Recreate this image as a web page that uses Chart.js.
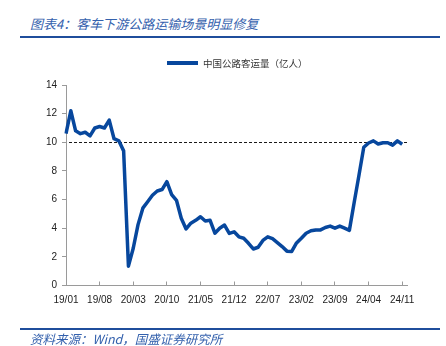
<!DOCTYPE html>
<html>
<head>
<meta charset="utf-8">
<script src="https://cdn.jsdelivr.net/npm/chart.js@4.4.0/dist/chart.umd.min.js"></script>
<style>
  body{margin:0;background:#fff;}
  #wrap{position:relative;width:446px;height:346px;overflow:hidden;font-family:"Noto Sans CJK SC",sans-serif;}
  #c{position:absolute;left:0;top:0;}
  .title{position:absolute;left:30px;top:14px;font-size:13px;font-style:italic;color:#3461ad;white-space:nowrap;}
  .rule{position:absolute;left:20px;width:420px;height:2px;background:#1f4e9c;}
  .src{position:absolute;left:30px;top:331px;font-size:12.5px;font-style:italic;color:#3461ad;white-space:nowrap;line-height:16px;}
  #legend{position:absolute;left:167px;top:55px;height:16px;display:flex;align-items:center;font-size:9.5px;color:#333;white-space:nowrap;}
  #legend i{display:inline-block;width:31px;height:4px;margin-right:5px;}
</style>
</head>
<body>
<div id="wrap">
  <div class="title">图表4：客车下游公路运输场景明显修复</div>
  <div class="rule" style="top:36px"></div>
  <canvas id="c" width="446" height="346"></canvas>
  <div id="legend"></div>
  <div class="rule" style="top:328px"></div>
  <div class="src">资料来源：Wind，国盛证券研究所</div>
</div>
<script>
/* ---------------- DATA ---------------- */
const SERIES_NAME = "中国公路客运量（亿人）";
const MONTHS = [
  "19/01","19/02","19/03","19/04","19/05","19/06","19/07","19/08","19/09","19/10","19/11","19/12",
  "20/01","20/02","20/03","20/04","20/05","20/06","20/07","20/08","20/09","20/10","20/11","20/12",
  "21/01","21/02","21/03","21/04","21/05","21/06","21/07","21/08","21/09","21/10","21/11","21/12",
  "22/01","22/02","22/03","22/04","22/05","22/06","22/07","22/08","22/09","22/10","22/11","22/12",
  "23/01","23/02","23/03","23/04","23/05","23/06","23/07","23/08","23/09","23/10","23/11","23/12",
  "24/01","24/02","24/03","24/04","24/05","24/06","24/07","24/08","24/09","24/10","24/11","24/12"
];
const PASSENGERS = [
  10.6, 12.2, 10.8, 10.6, 10.7, 10.45, 11.0, 11.1, 11.0, 11.55, 10.25, 10.1,
  9.4, 1.35, 2.6, 4.25, 5.4, 5.85, 6.3, 6.6, 6.7, 7.25, 6.35, 5.95,
  4.7, 3.95, 4.35, 4.55, 4.8, 4.5, 4.55, 3.65, 4.0, 4.22, 3.64, 3.75,
  3.4, 3.3, 2.95, 2.55, 2.67, 3.15, 3.4, 3.27, 3.0, 2.72, 2.4, 2.38,
  2.97, 3.3, 3.65, 3.82, 3.88, 3.88, 4.05, 4.15, 4.0, 4.15, 4.0, 3.85,
  5.8, 7.7, 9.65, 9.95, 10.1, 9.88, 9.97, 9.97, 9.8, 10.1, 9.86, null
];
const REF_LEVEL = 10;          // dashed reference line
const TICK_EVERY = 7;          // label every 7 months
const Y_MIN = 0, Y_MAX = 14, Y_STEP = 2;
/* -------------------------------------- */

const AXIS_GREY = "#9a9a9a";
const LINE_BLUE = "#07479d";
const FONT = "'Liberation Sans', Arial, sans-serif";

/* dashed horizontal line at REF_LEVEL */
const refLine = {
  id: "refLine",
  beforeDatasetsDraw(chart){
    const {ctx, chartArea, scales} = chart;
    const y = Math.round(scales.y.getPixelForValue(REF_LEVEL)) + 0.5;
    ctx.save();
    ctx.strokeStyle = "#1a1a1a";
    ctx.lineWidth = 1.2;
    ctx.setLineDash([3, 2]);
    ctx.beginPath();
    ctx.moveTo(chartArea.left + 3, y);
    ctx.lineTo(chartArea.right, y);
    ctx.stroke();
    ctx.restore();
  }
};

const chart = new Chart(document.getElementById("c"), {
  type: "line",
  data: {
    labels: MONTHS,
    datasets: [{
      label: SERIES_NAME,
      data: PASSENGERS,
      borderColor: LINE_BLUE,
      backgroundColor: LINE_BLUE,
      borderWidth: 3.5,
      pointRadius: 0,
      tension: 0,
      borderJoinStyle: "round"
    }]
  },
  options: {
    responsive: false,
    animation: false,
    layout: { padding: { top: 85, right: 39, bottom: 40.5, left: 0 } },
    plugins: {
      tooltip: { enabled: false },
      legend: { display: false }
    },
    scales: {
      x: {
        offset: false,
        afterFit: s => { s.height = 20; },
        border: { color: AXIS_GREY, width: 1 },
        grid: { drawOnChartArea: false, color: AXIS_GREY, tickLength: -4 },
        ticks: {
          autoSkip: false,
          maxRotation: 0,
          padding: 13,
          color: "#222",
          font: { size: 10, family: FONT },
          callback: (v, i) => (i % TICK_EVERY === 0 ? MONTHS[i] : null)
        }
      },
      y: {
        min: Y_MIN,
        max: Y_MAX,
        afterFit: s => { s.width = 66; },
        border: { color: AXIS_GREY, width: 1 },
        grid: { drawOnChartArea: false, color: AXIS_GREY, tickLength: 4 },
        ticks: {
          stepSize: Y_STEP,
          padding: 5,
          color: "#222",
          font: { size: 10, family: FONT }
        }
      }
    }
  },
  plugins: [refLine]
});

/* legend from the dataset */
const ds = chart.data.datasets[0];
document.getElementById("legend").innerHTML =
  `<i style="background:${ds.borderColor}"></i>${ds.label}`;
</script>
</body>
</html>
